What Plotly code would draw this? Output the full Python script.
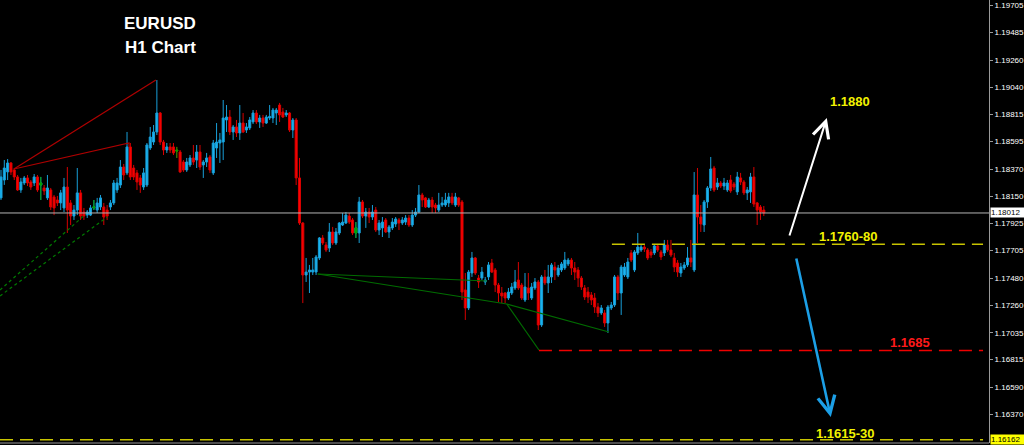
import plotly.graph_objects as go

# ---------------- data (EURUSD H1) ----------------
open_ = [
    1.18135, 1.18281, 1.18347, 1.18420, 1.18363, 1.18306, 1.18200, 1.18257, 1.18298, 1.18265,
    1.18257, 1.18306, 1.18240, 1.18216, 1.18135, 1.18200, 1.18143, 1.18118, 1.18094, 1.18053,
    1.18224, 1.18094, 1.17987, 1.18036, 1.18176, 1.18020, 1.17995, 1.17995, 1.18053, 1.18036,
    1.18061, 1.18061, 1.18036, 1.18061, 1.18094, 1.18200, 1.18240, 1.18387, 1.18339, 1.18551,
    1.18379, 1.18339, 1.18298, 1.18224, 1.18240, 1.18542, 1.18591, 1.18673, 1.18828, 1.18591,
    1.18526, 1.18551, 1.18551, 1.18526, 1.18510, 1.18428, 1.18363, 1.18404, 1.18461, 1.18444,
    1.18510, 1.18404, 1.18428, 1.18469, 1.18339, 1.18542, 1.18583, 1.18591, 1.18771, 1.18795,
    1.18673, 1.18714, 1.18665, 1.18746, 1.18689, 1.18706, 1.18755, 1.18828, 1.18755, 1.18787,
    1.18746, 1.18787, 1.18787, 1.18828, 1.18893, 1.18836, 1.18812, 1.18828, 1.18689, 1.18771,
    1.18298, 1.17930, 1.17506, 1.17530, 1.17530, 1.17530, 1.17645, 1.17808, 1.17751, 1.17726,
    1.17857, 1.17767, 1.17849, 1.17914, 1.17930, 1.17987, 1.17955, 1.17849, 1.17849, 1.18102,
    1.17987, 1.18020, 1.17979, 1.18036, 1.17873, 1.17890, 1.17955, 1.17857, 1.17890, 1.17922,
    1.17955, 1.17930, 1.17938, 1.17971, 1.17914, 1.17995, 1.18020, 1.18159, 1.18135, 1.18061,
    1.18118, 1.18077, 1.18036, 1.18077, 1.18077, 1.18094, 1.18143, 1.18077, 1.18135, 1.18102,
    1.17384, 1.17237, 1.17522, 1.17645, 1.17481, 1.17481, 1.17449, 1.17490, 1.17604, 1.17547,
    1.17424, 1.17359, 1.17359, 1.17318, 1.17359, 1.17400, 1.17465, 1.17424, 1.17302, 1.17400,
    1.17318, 1.17400, 1.17449, 1.17098, 1.17490, 1.17441, 1.17490, 1.17571, 1.17506, 1.17547,
    1.17563, 1.17596, 1.17628, 1.17563, 1.17547, 1.17481, 1.17400, 1.17367, 1.17343, 1.17318,
    1.17245, 1.17196, 1.17196, 1.17114, 1.17237, 1.17261, 1.17490, 1.17359, 1.17506, 1.17490,
    1.17686, 1.17547, 1.17686, 1.17710, 1.17734, 1.17710, 1.17694, 1.17686, 1.17743, 1.17694,
    1.17686, 1.17751, 1.17710, 1.17645, 1.17604, 1.17522, 1.17563, 1.17588, 1.17645, 1.17547,
    1.18159, 1.17979, 1.17914, 1.18102, 1.18216, 1.18379, 1.18224, 1.18257, 1.18232, 1.18200,
    1.18281, 1.18249, 1.18184, 1.18298, 1.18265, 1.18176, 1.18184, 1.18306, 1.18094, 1.18061,
    1.18036,
]
high = [
    1.18363, 1.18444, 1.18452, 1.18428, 1.18379, 1.18322, 1.18298, 1.18314, 1.18322, 1.18281,
    1.18330, 1.18322, 1.18306, 1.18240, 1.18322, 1.18216, 1.18159, 1.18151, 1.18200, 1.18298,
    1.18387, 1.18118, 1.18077, 1.18379, 1.18200, 1.18053, 1.18036, 1.18077, 1.18118, 1.18135,
    1.18159, 1.18094, 1.18077, 1.18118, 1.18281, 1.18298, 1.18444, 1.18412, 1.18673, 1.18583,
    1.18404, 1.18363, 1.18322, 1.18379, 1.18583, 1.18714, 1.18730, 1.19097, 1.18836, 1.18608,
    1.18583, 1.18583, 1.18583, 1.18551, 1.18526, 1.18444, 1.18461, 1.18485, 1.18567, 1.18567,
    1.18567, 1.18444, 1.18502, 1.18485, 1.18608, 1.18746, 1.18665, 1.18934, 1.18893, 1.18852,
    1.18730, 1.18771, 1.18893, 1.18828, 1.18746, 1.18795, 1.18852, 1.18852, 1.18812, 1.18812,
    1.18812, 1.18893, 1.18869, 1.18869, 1.18910, 1.18869, 1.18852, 1.18836, 1.18787, 1.18787,
    1.18461, 1.17938, 1.17645, 1.17588, 1.17645, 1.17669, 1.17816, 1.17832, 1.17775, 1.17930,
    1.17898, 1.17889, 1.17938, 1.18012, 1.18020, 1.18012, 1.17971, 1.17938, 1.18143, 1.18118,
    1.18053, 1.18053, 1.18077, 1.18061, 1.17955, 1.17979, 1.17971, 1.17914, 1.17971, 1.17979,
    1.17971, 1.17979, 1.17995, 1.17995, 1.18036, 1.18053, 1.18240, 1.18176, 1.18143, 1.18135,
    1.18143, 1.18094, 1.18176, 1.18143, 1.18176, 1.18176, 1.18176, 1.18176, 1.18143, 1.18118,
    1.17522, 1.17547, 1.17694, 1.17653, 1.17506, 1.17571, 1.17490, 1.17612, 1.17637, 1.17563,
    1.17441, 1.17408, 1.17367, 1.17400, 1.17441, 1.17547, 1.17612, 1.17441, 1.17522, 1.17522,
    1.17441, 1.17481, 1.17465, 1.17506, 1.17547, 1.17588, 1.17604, 1.17612, 1.17588, 1.17612,
    1.17694, 1.17645, 1.17645, 1.17612, 1.17571, 1.17498, 1.17424, 1.17408, 1.17367, 1.17359,
    1.17277, 1.17261, 1.17220, 1.17261, 1.17286, 1.17506, 1.17506, 1.17588, 1.17604, 1.17645,
    1.17710, 1.17710, 1.17849, 1.17751, 1.17751, 1.17726, 1.17718, 1.17759, 1.17759, 1.17710,
    1.17792, 1.17792, 1.17792, 1.17686, 1.17628, 1.17604, 1.17612, 1.17734, 1.17792, 1.18346,
    1.18379, 1.18077, 1.18118, 1.18232, 1.18469, 1.18396, 1.18298, 1.18273, 1.18298, 1.18281,
    1.18322, 1.18265, 1.18347, 1.18339, 1.18281, 1.18224, 1.18339, 1.18387, 1.18102, 1.18077,
    1.18069,
]
low = [
    1.18118, 1.18241, 1.18281, 1.18322, 1.18281, 1.18192, 1.18176, 1.18240, 1.18232, 1.18200,
    1.18232, 1.18184, 1.18118, 1.18159, 1.18118, 1.18036, 1.17995, 1.18069, 1.18036, 1.18020,
    1.17849, 1.17914, 1.17955, 1.17995, 1.17955, 1.17955, 1.17971, 1.17987, 1.18036, 1.18012,
    1.18036, 1.17914, 1.17955, 1.18036, 1.18077, 1.18176, 1.18216, 1.18281, 1.18322, 1.18281,
    1.18281, 1.18200, 1.18176, 1.18200, 1.18224, 1.18526, 1.18567, 1.18648, 1.18567, 1.18485,
    1.18502, 1.18502, 1.18485, 1.18461, 1.18339, 1.18347, 1.18347, 1.18387, 1.18404, 1.18379,
    1.18363, 1.18298, 1.18387, 1.18339, 1.18322, 1.18461, 1.18420, 1.18444, 1.18673, 1.18648,
    1.18608, 1.18632, 1.18608, 1.18665, 1.18665, 1.18689, 1.18738, 1.18738, 1.18706, 1.18714,
    1.18738, 1.18771, 1.18746, 1.18730, 1.18755, 1.18787, 1.18795, 1.18673, 1.18624, 1.18240,
    1.17914, 1.17277, 1.17449, 1.17359, 1.17506, 1.17506, 1.17628, 1.17751, 1.17694, 1.17694,
    1.17751, 1.17751, 1.17832, 1.17906, 1.17922, 1.17922, 1.17832, 1.17808, 1.17767, 1.17971,
    1.17890, 1.17930, 1.17955, 1.17857, 1.17832, 1.17816, 1.17849, 1.17808, 1.17873, 1.17898,
    1.17873, 1.17914, 1.17914, 1.17898, 1.17898, 1.17979, 1.18012, 1.18061, 1.18053, 1.18053,
    1.18012, 1.18012, 1.18020, 1.18061, 1.18061, 1.18061, 1.18077, 1.18061, 1.18061, 1.17302,
    1.17139, 1.17220, 1.17490, 1.17506, 1.17400, 1.17465, 1.17424, 1.17465, 1.17522, 1.17367,
    1.17286, 1.17277, 1.17277, 1.17302, 1.17343, 1.17384, 1.17384, 1.17302, 1.17286, 1.17302,
    1.17302, 1.17384, 1.17057, 1.17082, 1.17424, 1.17359, 1.17441, 1.17465, 1.17490, 1.17530,
    1.17547, 1.17579, 1.17506, 1.17465, 1.17408, 1.17384, 1.17302, 1.17277, 1.17261, 1.17196,
    1.17163, 1.17180, 1.17082, 1.17033, 1.17220, 1.17245, 1.17302, 1.17180, 1.17490, 1.17473,
    1.17612, 1.17530, 1.17669, 1.17694, 1.17694, 1.17628, 1.17645, 1.17669, 1.17694, 1.17628,
    1.17661, 1.17694, 1.17653, 1.17530, 1.17490, 1.17490, 1.17547, 1.17571, 1.17571, 1.17530,
    1.17767, 1.17857, 1.17857, 1.18053, 1.18192, 1.18184, 1.18200, 1.18216, 1.18200, 1.18184,
    1.18176, 1.18200, 1.18159, 1.18240, 1.18159, 1.18118, 1.18094, 1.18061, 1.17914, 1.17955,
    1.17987,
]
close = [
    1.18306, 1.18379, 1.18420, 1.18347, 1.18306, 1.18200, 1.18265, 1.18298, 1.18257, 1.18224,
    1.18306, 1.18200, 1.18257, 1.18192, 1.18216, 1.18061, 1.18053, 1.18094, 1.18176, 1.18224,
    1.18036, 1.17987, 1.18036, 1.18176, 1.17987, 1.17987, 1.18020, 1.18053, 1.18061, 1.18094,
    1.18135, 1.17979, 1.17987, 1.18094, 1.18257, 1.18257, 1.18387, 1.18322, 1.18551, 1.18306,
    1.18306, 1.18265, 1.18240, 1.18339, 1.18567, 1.18632, 1.18673, 1.18828, 1.18591, 1.18526,
    1.18551, 1.18526, 1.18502, 1.18518, 1.18347, 1.18363, 1.18428, 1.18461, 1.18428, 1.18510,
    1.18387, 1.18428, 1.18461, 1.18363, 1.18583, 1.18591, 1.18608, 1.18787, 1.18795, 1.18673,
    1.18714, 1.18665, 1.18746, 1.18673, 1.18714, 1.18771, 1.18828, 1.18755, 1.18787, 1.18746,
    1.18795, 1.18800, 1.18852, 1.18852, 1.18812, 1.18795, 1.18828, 1.18689, 1.18771, 1.18298,
    1.17930, 1.17506, 1.17530, 1.17547, 1.17547, 1.17653, 1.17808, 1.17767, 1.17710, 1.17857,
    1.17767, 1.17857, 1.17930, 1.17938, 1.17995, 1.17938, 1.17849, 1.17890, 1.18102, 1.17987,
    1.18020, 1.17979, 1.18020, 1.17873, 1.17930, 1.17938, 1.17857, 1.17898, 1.17938, 1.17963,
    1.17930, 1.17955, 1.17971, 1.17914, 1.17995, 1.18020, 1.18159, 1.18118, 1.18061, 1.18118,
    1.18061, 1.18053, 1.18077, 1.18094, 1.18118, 1.18143, 1.18094, 1.18143, 1.18077, 1.17367,
    1.17237, 1.17530, 1.17645, 1.17522, 1.17449, 1.17530, 1.17465, 1.17588, 1.17530, 1.17424,
    1.17359, 1.17335, 1.17318, 1.17367, 1.17408, 1.17449, 1.17400, 1.17318, 1.17408, 1.17359,
    1.17408, 1.17449, 1.17098, 1.17490, 1.17441, 1.17490, 1.17588, 1.17547, 1.17563, 1.17596,
    1.17628, 1.17628, 1.17563, 1.17530, 1.17481, 1.17408, 1.17326, 1.17326, 1.17302, 1.17245,
    1.17196, 1.17237, 1.17114, 1.17245, 1.17261, 1.17490, 1.17359, 1.17571, 1.17571, 1.17612,
    1.17628, 1.17694, 1.17734, 1.17734, 1.17718, 1.17645, 1.17669, 1.17743, 1.17710, 1.17653,
    1.17751, 1.17710, 1.17669, 1.17571, 1.17530, 1.17571, 1.17588, 1.17645, 1.17612, 1.18159,
    1.17979, 1.17922, 1.18102, 1.18216, 1.18371, 1.18200, 1.18257, 1.18232, 1.18257, 1.18257,
    1.18192, 1.18224, 1.18306, 1.18265, 1.18176, 1.18200, 1.18306, 1.18085, 1.18036, 1.18020,
    1.18012,
]
neutral_bars = [12, 28, 53, 107]          # bars drawn in green

price_ticks = [1.19705, 1.19485, 1.19260, 1.19040, 1.18815, 1.18595, 1.18370, 1.18150,
               1.17925, 1.17705, 1.17480, 1.17260, 1.17035, 1.16815, 1.16590, 1.16370]
current_price = 1.18012
bottom_price = 1.16162

# analysis drawings (bar index, price)
red_fan_x1 = [3.9, 46.7]
red_fan_y1 = [1.18371, 1.19097]
red_fan_x2 = [3.9, 38.6, 38.6]
red_fan_y2 = [1.18371, 1.18583, 1.18550]
green_dash1_x = [-0.3, 25.6]
green_dash1_y = [1.17384, 1.18004]
green_dash2_x = [-0.3, 32.0]
green_dash2_y = [1.17335, 1.17979]
green_flat_x = [95.5, 146.5]
green_flat_y = [1.17514, 1.17457]
green_poly_x = [95.5, 152.5, 183.3]
green_poly_y = [1.17514, 1.17269, 1.17041]
green_drop_x = [152.5, 162.2]
green_drop_y = [1.17269, 1.16894]

level_red = 1.16890
level_yellow = 1.17757
level_red_start = 162.2
level_yellow_start = 184.2
level_end = 296.1

arrow_up = dict(x0=237.6, y0=1.17816, x1=249.0, y1=1.18787)
arrow_down = dict(x0=239.7, y0=1.17653, x1=250.2, y1=1.16347)

labels = [
    ("1.1880", 255.9, 1.18921, "#f2f200"),
    ("1.1760-80", 255.6, 1.17824, "#f2f200"),
    ("1.1685", 274.0, 1.16957, "#ff1a1a"),
    ("1.1615-30", 254.7, 1.16214, "#f2f200"),
]

# ---------------- figure ----------------
FONT = "Liberation Sans, Arial, sans-serif"
xs = list(range(len(open_)))

fig = go.Figure()
fig.add_trace(go.Candlestick(
    x=xs, open=open_, high=high, low=low, close=close,
    increasing=dict(line=dict(color="#189fd8", width=1), fillcolor="#1ab6f2"),
    decreasing=dict(line=dict(color="#d80000", width=1), fillcolor="#ff0000"),
    hoverinfo="skip", showlegend=False,
))
fig.add_trace(go.Candlestick(
    x=[xs[i] for i in neutral_bars],
    open=[open_[i] for i in neutral_bars], high=[high[i] for i in neutral_bars],
    low=[low[i] for i in neutral_bars], close=[close[i] for i in neutral_bars],
    increasing=dict(line=dict(color="#00a000", width=1), fillcolor="#00b000"),
    decreasing=dict(line=dict(color="#00a000", width=1), fillcolor="#00b000"),
    hoverinfo="skip", showlegend=False,
))


def add_line(x, y, color, width=1.2, dash=None):
    fig.add_trace(go.Scatter(x=x, y=y, mode="lines", hoverinfo="skip", showlegend=False,
                             line=dict(color=color, width=width, dash=dash)))


add_line(red_fan_x1, red_fan_y1, "#b00000")
add_line(red_fan_x2, red_fan_y2, "#b00000")
add_line(green_dash1_x, green_dash1_y, "#007a00", 1.2, "3px,3px")
add_line(green_dash2_x, green_dash2_y, "#007a00", 1.2, "3px,3px")
add_line(green_flat_x, green_flat_y, "#006c00")
add_line(green_poly_x, green_poly_y, "#006c00")
add_line(green_drop_x, green_drop_y, "#006c00")

shapes = [
    dict(type="line", xref="paper", x0=0, x1=1, yref="y", y0=current_price, y1=current_price,
         line=dict(color="#b4b4b4", width=1)),
    dict(type="line", xref="x", x0=level_red_start, x1=level_end, yref="y",
         y0=level_red, y1=level_red, line=dict(color="#ee0000", width=1.5, dash="13px,7px")),
    dict(type="line", xref="x", x0=level_yellow_start, x1=level_end, yref="y",
         y0=level_yellow, y1=level_yellow, line=dict(color="#c8c400", width=1.5, dash="13px,7px")),
    dict(type="line", xref="x", x0=-0.3, x1=level_end, yref="y",
         y0=bottom_price, y1=bottom_price, line=dict(color="#c8c400", width=1.5, dash="13px,7px")),
    dict(type="line", xref="paper", x0=0, x1=1, yref="paper", y0=0, y1=0,
         line=dict(color="#9a9a9a", width=1)),
]

annotations = []
annotations.append(dict(x=arrow_up["x1"], y=arrow_up["y1"], ax=arrow_up["x0"], ay=arrow_up["y0"],
                        xref="x", yref="y", axref="x", ayref="y", text="", showarrow=True,
                        arrowhead=5, arrowsize=1.6, arrowwidth=2, arrowcolor="#ffffff"))
annotations.append(dict(x=arrow_down["x1"], y=arrow_down["y1"], ax=arrow_down["x0"], ay=arrow_down["y0"],
                        xref="x", yref="y", axref="x", ayref="y", text="", showarrow=True,
                        arrowhead=5, arrowsize=1.3, arrowwidth=2.6, arrowcolor="#1c9fe6"))
for txt, lx, ly, col in labels:
    annotations.append(dict(x=lx, y=ly, xref="x", yref="y", text=txt, showarrow=False,
                            xanchor="center", yanchor="middle",
                            font=dict(family=FONT, size=13, color=col, weight="bold")))
annotations.append(dict(x=160 / 989, y=1 - 24 / 443, xref="paper", yref="paper", text="EURUSD",
                        showarrow=False, xanchor="center", yanchor="middle",
                        font=dict(family=FONT, size=17, color="#ffffff", weight="bold")))
annotations.append(dict(x=160 / 989, y=1 - 48 / 443, xref="paper", yref="paper", text="H1 Chart",
                        showarrow=False, xanchor="center", yanchor="middle",
                        font=dict(family=FONT, size=17, color="#ffffff", weight="bold")))
for val, bg in [(current_price, "#ffffff"), (bottom_price, "#ffff00")]:
    annotations.append(dict(x=1, y=val, xref="paper", yref="y", text=f"{val:.5f}", showarrow=False,
                            xanchor="left", yanchor="middle", xshift=1, width=33, align="left",
                            bgcolor=bg, borderpad=0,
                            font=dict(family=FONT, size=8, color="#000000")))

fig.update_layout(
    width=1024, height=445,
    margin=dict(l=0, r=35, t=0, b=2),
    paper_bgcolor="#000000", plot_bgcolor="#000000",
    shapes=shapes, annotations=annotations,
    showlegend=False,
    boxgap=0.12,
    xaxis=dict(range=[-0.3, 297.9], visible=False, rangeslider=dict(visible=False),
               fixedrange=True),
    yaxis=dict(range=[1.16135, 1.19750], side="right", showgrid=False, zeroline=False,
               tickmode="array", tickvals=price_ticks, ticktext=[f"{v:.5f}" for v in price_ticks],
               ticks="outside", ticklen=3, tickcolor="#9a9a9a",
               showline=True, linecolor="#9a9a9a", linewidth=1,
               tickfont=dict(family=FONT, size=8, color="#ffffff"), fixedrange=True),
)

fig.write_html(
    "out.html",
    config={"displayModeBar": False},
    post_script="document.body.style.margin='0px';document.body.style.padding='0px';"
                "document.body.style.overflow='hidden';document.body.style.background='#000000';",
)
